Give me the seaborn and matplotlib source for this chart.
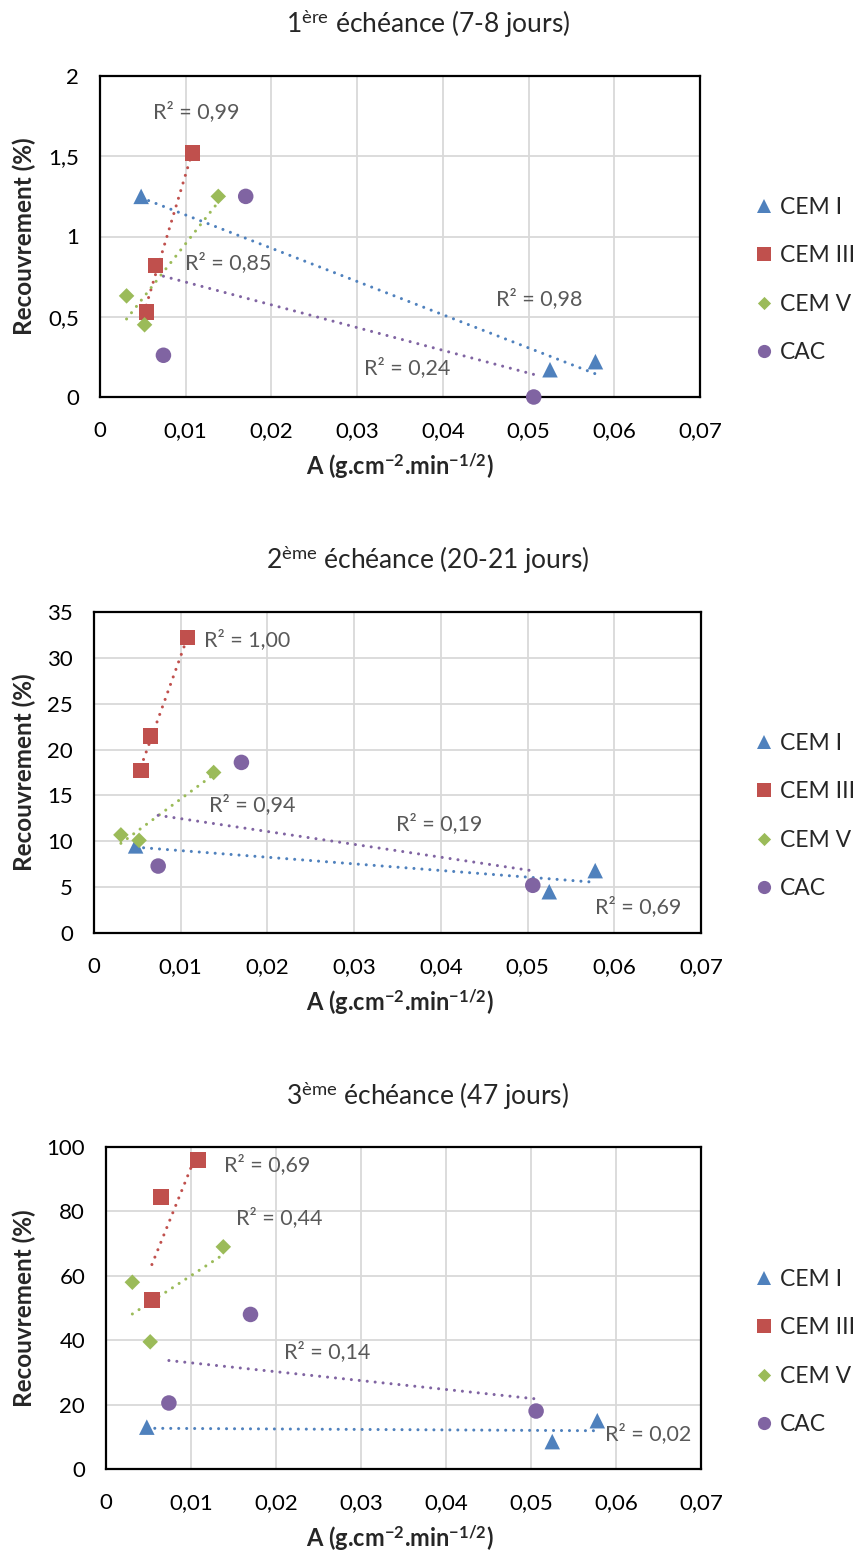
import matplotlib
matplotlib.use("Agg")
import matplotlib.pyplot as plt
import matplotlib.ticker as mticker
import numpy as np
import pandas as pd
import seaborn as sns

# Valeurs
materiaux = ["CEM I", "CEM III", "CEM V", "CAC"]

# A (g.cm-2.min-1/2), identique pour les trois échéances
x_cem1 = [0.0048, 0.0525, 0.0578]
x_cem3 = [0.0108, 0.0065, 0.0054]
x_cem5 = [0.0031, 0.0052, 0.0138]
x_cac = [0.0074, 0.0170, 0.0506]

# Recouvrement (%) par échéance
y1_cem1 = [1.25, 0.17, 0.22]
y1_cem3 = [1.52, 0.82, 0.53]
y1_cem5 = [0.63, 0.45, 1.25]
y1_cac = [0.26, 1.25, 0.0]

y2_cem1 = [9.5, 4.5, 6.8]
y2_cem3 = [32.2, 21.5, 17.7]
y2_cem5 = [10.7, 10.1, 17.5]
y2_cac = [7.3, 18.6, 5.2]

y3_cem1 = [13.0, 8.5, 15.0]
y3_cem3 = [96.0, 84.5, 52.5]
y3_cem5 = [58.0, 39.5, 69.0]
y3_cac = [20.5, 48.0, 18.0]

titres = [r"1$^{\mathrm{ère}}$ échéance (7-8 jours)",
          r"2$^{\mathrm{ème}}$ échéance (20-21 jours)",
          r"3$^{\mathrm{ème}}$ échéance (47 jours)"]

r2_textes = [
    ["R² = 0,98", "R² = 0,99", "R² = 0,85", "R² = 0,24"],
    ["R² = 0,69", "R² = 1,00", "R² = 0,94", "R² = 0,19"],
    ["R² = 0,02", "R² = 0,69", "R² = 0,44", "R² = 0,14"],
]
r2_pos = [
    [(0.0512, 0.61), (0.0112, 1.78), (0.0150, 0.84), (0.0358, 0.18)],
    [(0.0628, 2.9), (0.0177, 32.0), (0.0183, 14.0), (0.0398, 11.9)],
    [(0.0638, 10.9), (0.0190, 94.4), (0.0204, 78.0), (0.0260, 36.6)],
]
y_ticks = [np.arange(0, 2.01, 0.5), np.arange(0, 36, 5), np.arange(0, 101, 20)]

couleurs = {"CEM I": "#4F81BD", "CEM III": "#C0504D", "CEM V": "#9BBB59", "CAC": "#8064A2"}
losange = [(0, 1), (1, 0), (0, -1), (-1, 0), (0, 1)]
marqueurs = {"CEM I": "^", "CEM III": "s", "CEM V": losange, "CAC": "o"}

sns.set_theme(style="white")
plt.rcParams["font.family"] = ["Lato", "DejaVu Sans"]
plt.rcParams["mathtext.fontset"] = "custom"
plt.rcParams["mathtext.rm"] = "Lato"
plt.rcParams["mathtext.it"] = "Lato:italic"
plt.rcParams["mathtext.bf"] = "Lato:bold"

W, H = 858, 1553
fig = plt.figure(figsize=(W / 100, H / 100), dpi=100)

# (gauche, droite, haut, bas) en pixels
cadres = [(100, 700, 76, 397), (94, 701, 612, 933), (106, 701, 1147, 1469)]
titre_y = [24, 560, 1096]
xlabel_y = [466, 1002, 1538]
legende_y = [280, 816, 1352]

series_x = [x_cem1, x_cem3, x_cem5, x_cac]
series_y = [
    [y1_cem1, y1_cem3, y1_cem5, y1_cac],
    [y2_cem1, y2_cem3, y2_cem5, y2_cac],
    [y3_cem1, y3_cem3, y3_cem5, y3_cac],
]

virgule = mticker.FuncFormatter(lambda v, _: f"{v:g}".replace(".", ","))

for i in range(3):
    g, d, h, b = cadres[i]
    ax = fig.add_axes([g / W, 1 - b / H, (d - g) / W, (b - h) / H])

    lignes = []
    for m, xs, ys in zip(materiaux, series_x, series_y[i]):
        for xv, yv in zip(xs, ys):
            lignes.append({"A": xv, "R": yv, "Matériau": m})
    df = pd.DataFrame(lignes)

    sns.scatterplot(data=df, x="A", y="R", hue="Matériau", style="Matériau",
                    hue_order=materiaux, style_order=materiaux,
                    palette=couleurs, markers=marqueurs, s=125, linewidth=0,
                    ax=ax, zorder=3, clip_on=False)

    # courbes de tendance linéaires
    for m, xs, ys in zip(materiaux, series_x, series_y[i]):
        a, c = np.polyfit(xs, ys, 1)
        xx = np.array([min(xs), max(xs)])
        ax.plot(xx, a * xx + c, color=couleurs[m], lw=2.2,
                linestyle=(0, (0.01, 2.6)), dash_capstyle="round", zorder=2)

    for txt, (tx, ty) in zip(r2_textes[i], r2_pos[i]):
        ax.text(tx, ty, txt, ha="center", va="center", fontsize=15.5, color="#595959", zorder=4)

    ax.set_xlim(0, 0.07)
    ax.set_ylim(y_ticks[i][0], y_ticks[i][-1])
    ax.set_xticks(np.arange(0, 0.0701, 0.01))
    ax.set_yticks(y_ticks[i])
    ax.xaxis.set_major_formatter(virgule)
    ax.yaxis.set_major_formatter(virgule)
    ax.tick_params(labelsize=16, colors="black", length=0)
    ax.tick_params(axis="x", pad=17)
    ax.tick_params(axis="y", pad=15)
    ax.grid(True, color="#D9D9D9", lw=1.3)
    ax.set_axisbelow(True)
    for sp in ax.spines.values():
        sp.set_color("black")
        sp.set_linewidth(1.6)

    ax.set_xlabel("")
    ax.set_ylabel("Recouvrement (%)", fontsize=17.5, fontweight="bold")
    ax.yaxis.set_label_coords((36 - g) / (d - g), 0.5)

    fig.text(400 / W, 1 - xlabel_y[i] / H,
             r"A (g.cm$^{\mathbf{-2}}$.min$^{\mathbf{-1/2}}$)",
             ha="center", va="center", fontsize=17, fontweight="bold")
    fig.text(428 / W, 1 - titre_y[i] / H, titres[i], ha="center", va="center", fontsize=19)

    sns.move_legend(ax, "center left", bbox_to_anchor=((753 - g) / (d - g), (b - legende_y[i]) / (b - h)),
                    frameon=False, title=None, fontsize=16.5, labelspacing=1.2,
                    borderpad=0, borderaxespad=0, handletextpad=0.18,
                    markerscale=0.85, handlelength=1.0)

fig.savefig("out.png", dpi=100)
